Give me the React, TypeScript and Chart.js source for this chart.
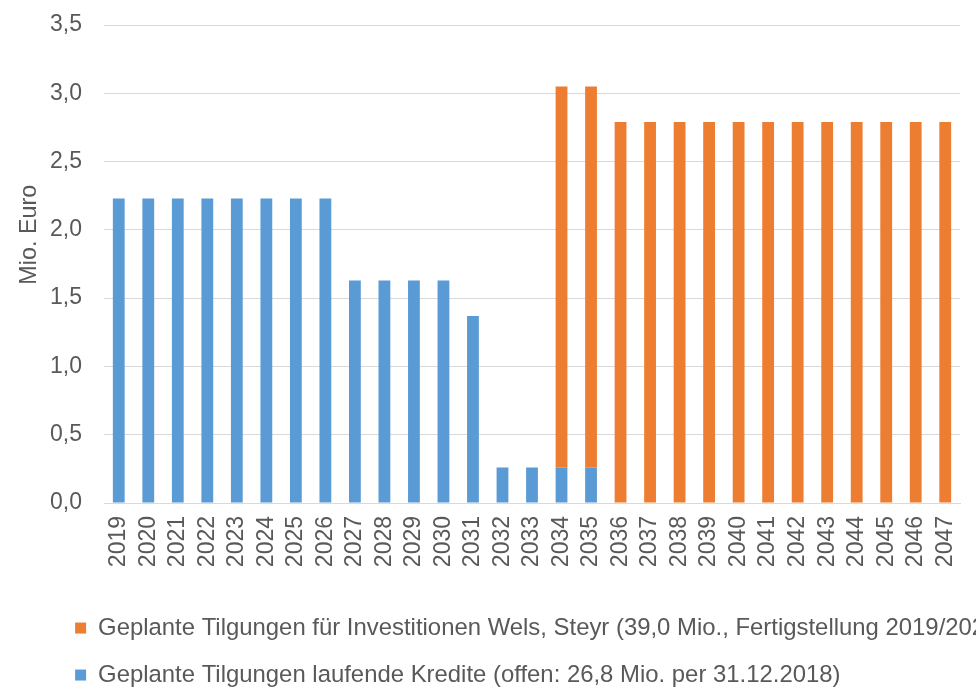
import React, { useEffect, useRef } from "react";
import { Chart, registerables } from "chart.js";

Chart.register(...registerables);

const years = [
  "2019", "2020", "2021", "2022", "2023", "2024", "2025", "2026", "2027", "2028",
  "2029", "2030", "2031", "2032", "2033", "2034", "2035", "2036", "2037", "2038",
  "2039", "2040", "2041", "2042", "2043", "2044", "2045", "2046", "2047",
];

const laufendeKredite = [
  2.23, 2.23, 2.23, 2.23, 2.23, 2.23, 2.23, 2.23, 1.63, 1.63,
  1.63, 1.63, 1.37, 0.26, 0.26, 0.26, 0.26, 0, 0, 0,
  0, 0, 0, 0, 0, 0, 0, 0, 0,
];

const investitionen = [
  0, 0, 0, 0, 0, 0, 0, 0, 0, 0,
  0, 0, 0, 0, 0, 2.79, 2.79, 2.79, 2.79, 2.79,
  2.79, 2.79, 2.79, 2.79, 2.79, 2.79, 2.79, 2.79, 2.79,
];

const seriesNames = [
  "Geplante Tilgungen laufende Kredite (offen: 26,8 Mio. per 31.12.2018)",
  "Geplante Tilgungen für Investitionen Wels, Steyr (39,0 Mio., Fertigstellung 2019/2020)",
];

const yAxisTitle = "Mio. Euro";

const BLUE = "#5B9BD5";
const ORANGE = "#ED7D31";
const TEXT = "#595959";
const GRID = "#D9D9D9";
const FONT = "'Liberation Sans', Arial, sans-serif";

const legendShift = {
  id: "legendShift",
  afterLayout(chart: any) {
    const lg = chart.legend;
    if (lg) {
      lg.left += 52;
      lg.right += 52;
      lg.top += 9;
      lg.bottom += 9;
    }
  },
};

export default function App() {
  const ref = useRef<HTMLCanvasElement | null>(null);

  useEffect(() => {
    document.body.style.margin = "0";
    if (!ref.current) return;
    const chart = new Chart(ref.current, {
      type: "bar",
      data: {
        labels: years,
        datasets: [
          {
            label: seriesNames[0],
            data: laufendeKredite,
            backgroundColor: BLUE,
            borderWidth: 0,
            barPercentage: 0.4,
            categoryPercentage: 1,
          },
          {
            label: seriesNames[1],
            data: investitionen,
            backgroundColor: ORANGE,
            borderWidth: 0,
            barPercentage: 0.4,
            categoryPercentage: 1,
          },
        ],
      },
      plugins: [legendShift],
      options: {
        animation: false,
        responsive: true,
        maintainAspectRatio: false,
        layout: { padding: { top: 25, right: 16, bottom: 0, left: 0 } },
        plugins: {
          tooltip: { enabled: false },
          legend: {
            position: "bottom",
            align: "start",
            reverse: true,
            labels: {
              boxWidth: 11,
              boxHeight: 11,
              padding: 23.1,
              color: TEXT,
              font: { family: FONT, size: 23.9 },
            },
          },
        },
        scales: {
          x: {
            stacked: true,
            grid: { display: false, drawTicks: false },
            border: { display: true, color: GRID, width: 1 },
            ticks: {
              color: TEXT,
              font: { family: FONT, size: 23 },
              minRotation: 90,
              maxRotation: 90,
              padding: 13,
              autoSkip: false,
            },
            afterFit(scale: any) {
              scale.height = 81;
              scale.paddingLeft = 0;
              scale.paddingRight = 0;
            },
          },
          y: {
            stacked: true,
            min: 0,
            max: 3.5,
            grid: { color: GRID, lineWidth: 1, drawTicks: false },
            border: { display: false },
            ticks: {
              stepSize: 0.5,
              color: TEXT,
              font: { family: FONT, size: 23 },
              padding: 22,
              callback: (v: any) => Number(v).toFixed(1).replace(".", ","),
            },
            title: {
              display: true,
              text: "         " + yAxisTitle,
              color: TEXT,
              font: { family: FONT, size: 23.4 },
              padding: { top: 16, bottom: 0 },
            },
            afterFit(scale: any) {
              scale.width = 104;
              scale.paddingTop = 0;
              scale.paddingBottom = 0;
            },
          },
        },
      },
    });
    return () => chart.destroy();
  }, []);

  return (
    <div style={{ width: 976, height: 688, position: "relative" }}>
      <canvas ref={ref} />
    </div>
  );
}
